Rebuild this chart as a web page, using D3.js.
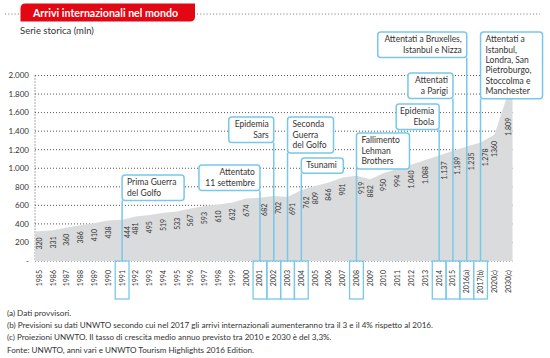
<!DOCTYPE html>
<html>
<head>
<meta charset="utf-8">
<script src="https://cdn.jsdelivr.net/npm/d3@7"></script>
<style>
  html, body { margin: 0; padding: 0; background: #fff; }
  svg { display: block; font-family: Lato, "Open Sans", sans-serif; }
</style>
</head>
<body>
<svg id="chart" width="550" height="358"></svg>
<script>
// ---------- data ----------
const categories = ["1985","1986","1987","1988","1989","1990","1991","1992","1993","1994",
  "1995","1996","1997","1998","1999","2000","2001","2002","2003","2004","2005","2006",
  "2007","2008","2009","2010","2011","2012","2013","2014","2015","2016(a)","2017(b)",
  "2020(c)","2030(c)"];
const arrivals = [320,331,360,386,410,438,444,481,495,519,533,567,593,610,632,674,682,
  702,691,762,809,846,901,919,882,950,994,1040,1088,1137,1189,1235,1278,1360,1809];
const valueLabels = ["320","331","360","386","410","438","444","481","495","519","533",
  "567","593","610","632","674","682","702","691","762","809","846","901","919","882",
  "950","994","1.040","1.088","1.137","1.189","1.235","1.278","1360","1.809"];
const yTicks = [0,200,400,600,800,1000,1200,1400,1600,1800,2000];
const yTickLabels = ["-","200","400","600","800","1.000","1.200","1.400","1.600","1.800","2.000"];

const eventYears = ["1991","2001","2002","2003","2004","2008","2014","2015","2016(a)","2017(b)"];
const eventTexts = [
  ["Prima Guerra","del Golfo"],
  ["Attentato","11 settembre"],
  ["Epidemia","Sars"],
  ["Seconda","Guerra","del Golfo"],
  ["Tsunami"],
  ["Fallimento","Lehman","Brothers"],
  ["Epidemia","Ebola"],
  ["Attentati","a Parigi"],
  ["Attentati a Bruxelles,","Istanbul e Nizza"],
  ["Attentati a","Istanbul,","Londra, San","Pietroburgo,","Stoccolma e","Manchester"]
];

const title = "Arrivi internazionali nel mondo";
const subtitle = "Serie storica (mln)";
const notes = [
  "(a) Dati provvisori.",
  "(b) Previsioni su dati UNWTO secondo cui nel 2017 gli arrivi internazionali aumenteranno tra il 3 e il 4% rispetto al 2016.",
  "(c) Proiezioni UNWTO. Il tasso di crescita medio annuo previsto tra 2010 e 2030 è del 3,3%.",
  "Fonte: UNWTO, anni vari e UNWTO Tourism Highlights 2016 Edition."
];

// ---------- layout (box placement for callouts) ----------
const eventLayout = [
  {align:"left",  w:62, top:175},
  {align:"right", w:61, top:165},
  {align:"right", w:45, top:117},
  {align:"left",  w:46, top:117},
  {align:"left",  w:42, top:158},
  {align:"left",  w:53, top:133},
  {align:"right", w:43, top:104},
  {align:"right", w:45, top:73},
  {align:"right", w:89, top:32},
  {align:"left",  w:62, top:32}
];

const BLUE = "#79c8ea";
const GREY_TXT = "#333";
const RED = "#e30613";
const LINE_H = 10.3;
const boxH = n => n * LINE_H + 5;

const svg = d3.select("#chart");

// ---------- scales ----------
const x = d3.scaleBand().domain(categories).range([32.5, 515]).padding(0);
const cx = c => x(c) + x.bandwidth() / 2;
const y = d3.scaleLinear().domain([0, 2000]).range([261, 75.5]);
const plotLeft = 35, plotRight = 512.5;

// ---------- header ----------
svg.append("line").attr("x1", 5).attr("x2", 540).attr("y1", 14).attr("y2", 14)
  .attr("stroke", "#777").attr("stroke-width", 1).attr("stroke-dasharray", "1,2.2");
const tx0 = 20.5, tx1 = 195, ty0 = 3.5, ty1 = 21.5, r = 5;
svg.append("path")
  .attr("d", `M${tx0},${ty0 + r} Q${tx0},${ty0} ${tx0 + r},${ty0} L${tx1},${ty0} L${tx1},${ty1 - r} Q${tx1},${ty1} ${tx1 - r},${ty1} L${tx0},${ty1} Z`)
  .attr("fill", RED);
svg.append("text").attr("x", 33).attr("y", 16.8).attr("fill", "#fff")
  .attr("font-size", 10.6).attr("font-weight", 700).text(title);
svg.append("text").attr("x", 20).attr("y", 33.5).attr("fill", GREY_TXT)
  .attr("font-size", 9.5).text(subtitle);

// ---------- grid ----------
const grid = svg.append("g");
grid.selectAll("line.h").data(yTicks).join("line")
  .attr("x1", plotLeft).attr("x2", plotRight)
  .attr("y1", d => y(d)).attr("y2", d => y(d))
  .attr("stroke", "#555").attr("stroke-width", 1).attr("stroke-dasharray", "1,2");
grid.append("line").attr("x1", plotLeft).attr("x2", plotLeft)
  .attr("y1", y(2000)).attr("y2", y(0))
  .attr("stroke", "#555").attr("stroke-width", 1).attr("stroke-dasharray", "1,2");

svg.append("g").selectAll("text").data(yTicks).join("text")
  .attr("x", 29).attr("y", d => y(d)).attr("dy", "0.35em")
  .attr("text-anchor", "end").attr("font-size", 8).attr("fill", GREY_TXT)
  .text((d, i) => yTickLabels[i]);

// ---------- area ----------
const ext = x.step() * 0.32;
const pts = categories.map((c, i) => ({ x: cx(c), v: arrivals[i] }));
const areaPts = [{ x: pts[0].x - ext, v: pts[0].v }, ...pts, { x: pts[pts.length - 1].x + ext, v: pts[pts.length - 1].v }];
svg.append("path").datum(areaPts)
  .attr("d", d3.area().x(d => d.x).y0(y(0)).y1(d => y(d.v)))
  .attr("fill", "#dadbdc");

// ---------- event lines & axis boxes ----------
const ev = svg.append("g");
eventYears.forEach((yr, i) => {
  const L = eventLayout[i];
  const h = boxH(eventTexts[i].length);
  const lx = cx(yr);
  ev.append("line").attr("x1", lx).attr("x2", lx).attr("y1", y(0)).attr("y2", L.top + h)
    .attr("stroke", BLUE).attr("stroke-width", 1.5);
  ev.append("rect").attr("x", x(yr)).attr("y", y(0)).attr("width", x.bandwidth()).attr("height", 38)
    .attr("fill", "none").attr("stroke", BLUE).attr("stroke-width", 1.3);
});

// lowest callout bottom over the last columns (labels must stay below it)
const lastBoxBottom = eventLayout[9].top + boxH(eventTexts[9].length);

// ---------- value labels ----------
svg.append("g").selectAll("text").data(categories).join("text")
  .attr("transform", (c, i) => {
    let top = y(arrivals[i]) + 6;
    if (i === categories.length - 1) top = Math.max(top, lastBoxBottom + 19);
    return `translate(${cx(c) + (eventYears.includes(c) ? 5 : 0)},${top}) rotate(-90)`;
  })
  .attr("dy", "0.35em").attr("text-anchor", "end")
  .attr("font-size", 7).attr("fill", GREY_TXT)
  .text((c, i) => valueLabels[i]);

// ---------- x axis labels ----------
svg.append("g").selectAll("text").data(categories).join("text")
  .attr("transform", c => `translate(${cx(c)},${y(0) + 9}) rotate(-90)`)
  .attr("dy", "0.35em").attr("text-anchor", "end")
  .attr("font-size", 7).attr("fill", GREY_TXT)
  .text(c => c);

// ---------- callout boxes ----------
eventYears.forEach((yr, i) => {
  const L = eventLayout[i];
  const lines = eventTexts[i];
  const h = boxH(lines.length);
  const lx = cx(yr);
  const bx = L.align === "left" ? lx : lx - L.w;
  const g = svg.append("g");
  g.append("rect").attr("x", bx).attr("y", L.top).attr("width", L.w).attr("height", h)
    .attr("rx", 3).attr("fill", "#fff").attr("stroke", BLUE).attr("stroke-width", 1.5);
  g.selectAll("text").data(lines).join("text")
    .attr("x", L.align === "left" ? bx + 5 : bx + L.w - 5)
    .attr("y", (d, j) => L.top + LINE_H + j * LINE_H)
    .attr("text-anchor", L.align === "left" ? "start" : "end")
    .attr("font-size", 8.5).attr("fill", GREY_TXT)
    .text(d => d);
});

// ---------- notes ----------
svg.append("g").selectAll("text").data(notes).join("text")
  .attr("x", 7).attr("y", (d, i) => 315.8 + i * 12.3)
  .attr("font-size", 8.1).attr("fill", GREY_TXT)
  .text(d => d);
</script>
</body>
</html>
